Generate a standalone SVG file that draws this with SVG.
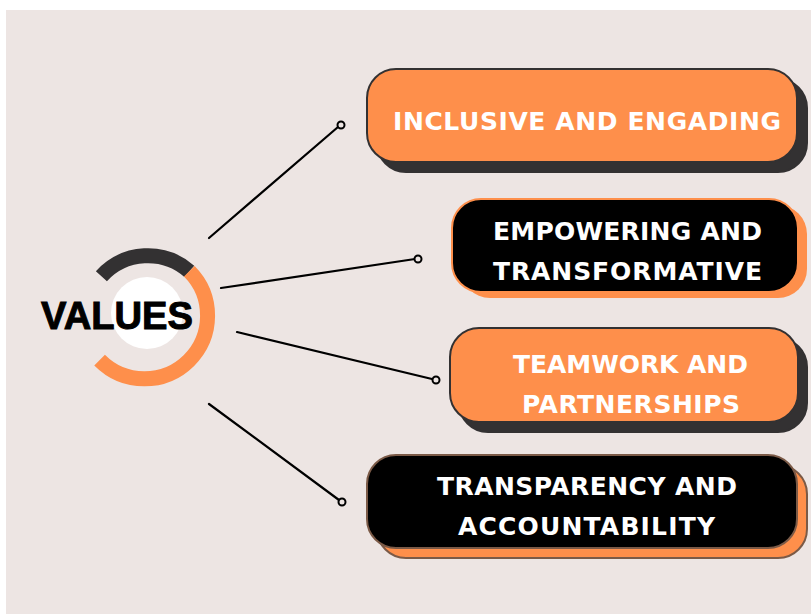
<svg xmlns="http://www.w3.org/2000/svg" width="811" height="614" viewBox="0 0 811 614">
<style>
.bg{fill:#ede5e3}
.conn line{stroke:#000;stroke-width:2.2;stroke-linecap:round}
.conn circle{fill:#ede5e3;stroke:#000;stroke-width:2}
.t1{font-family:"DejaVu Sans",Verdana,sans-serif;font-weight:bold;font-size:25px;fill:#fff;text-anchor:middle}
.orange{fill:#fe8f4b}
.dark{fill:#333132}
</style>
<rect x="0" y="0" width="811" height="614" fill="#fff"/>
<rect class="bg" x="6" y="10" width="805" height="604"/>

<g id="values">
  <circle cx="147" cy="313" r="36" fill="#fff"/>
  <path d="M101.4,276.2 A63,63 0 0 1 189.3,271.3" fill="none" stroke="#333132" stroke-width="15"/>
  <path d="M189.3,271.3 A63,63 0 1 1 99.6,360.1" fill="none" stroke="#fe8f4b" stroke-width="15"/>
  <text x="41" y="329" textLength="152" lengthAdjust="spacingAndGlyphs" font-family="'Liberation Sans',Arial,sans-serif" font-weight="bold" font-size="39" fill="#000" stroke="#000" stroke-width="1">VALUES</text>
</g>

<g id="connectors" class="conn">
  <line x1="209" y1="238" x2="338" y2="127"/>
  <circle cx="341" cy="125" r="3.5"/>
  <line x1="221" y1="288" x2="415" y2="259"/>
  <circle cx="418" cy="259" r="3.5"/>
  <line x1="237" y1="332" x2="432" y2="379"/>
  <circle cx="436" cy="380" r="3.5"/>
  <line x1="209" y1="404" x2="339" y2="500"/>
  <circle cx="342" cy="502" r="3.5"/>
</g>

<g id="box1">
  <rect x="377" y="79" width="430" height="93" rx="29" class="dark" stroke="#333132" stroke-width="2"/>
  <rect x="367" y="69" width="430" height="93" rx="29" class="orange" stroke="#333132" stroke-width="2"/>
  <text class="t1" x="587" y="130" textLength="388">INCLUSIVE AND ENGADING</text>
</g>

<g id="box2">
  <rect x="461" y="205" width="346" height="93" rx="29" class="orange"/>
  <rect x="452" y="199" width="346" height="93" rx="29" fill="#000" stroke="#fe8f4b" stroke-width="2"/>
  <text class="t1" x="627.5" y="240" textLength="269">EMPOWERING AND</text>
  <text class="t1" x="627.5" y="280" textLength="269">TRANSFORMATIVE</text>
</g>

<g id="box3">
  <rect x="459" y="338" width="348" height="94" rx="29" class="dark" stroke="#333132" stroke-width="2"/>
  <rect x="450" y="328" width="348" height="94" rx="29" class="orange" stroke="#333132" stroke-width="2"/>
  <text class="t1" x="630.5" y="373" textLength="235">TEAMWORK AND</text>
  <text class="t1" x="631" y="413" textLength="218">PARTNERSHIPS</text>
</g>

<g id="box4">
  <rect x="377" y="465" width="430" height="93" rx="29" class="orange" stroke="#7b5a47" stroke-width="2"/>
  <rect x="367" y="455" width="430" height="93" rx="29" fill="#000" stroke="#7b5a47" stroke-width="2"/>
  <text class="t1" x="587" y="495" textLength="300">TRANSPARENCY AND</text>
  <text class="t1" x="586.5" y="535" textLength="257">ACCOUNTABILITY</text>
</g>
</svg>
